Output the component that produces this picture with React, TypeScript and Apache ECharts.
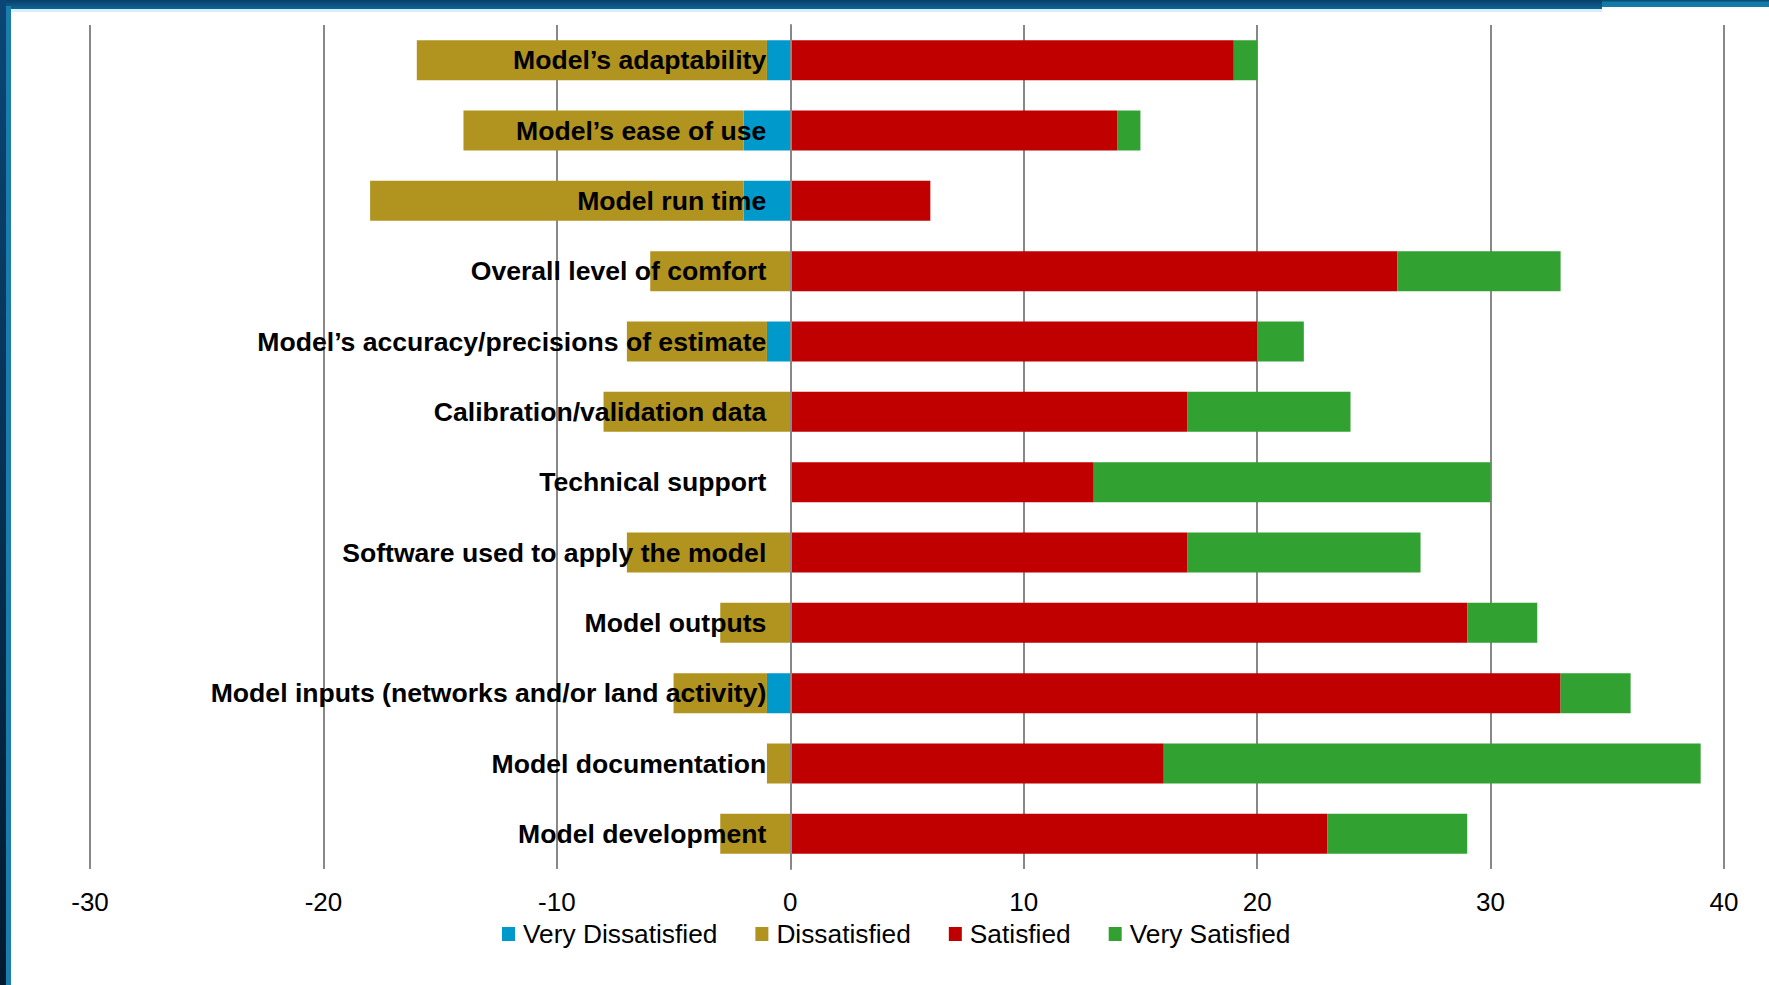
import React, { useEffect, useRef } from "react";
import * as echarts from "echarts";

const categories = [
  "Model’s adaptability",
  "Model’s ease of use",
  "Model run time",
  "Overall level of comfort",
  "Model’s accuracy/precisions of estimate",
  "Calibration/validation data",
  "Technical support",
  "Software used to apply the model",
  "Model outputs",
  "Model inputs (networks and/or land activity)",
  "Model documentation",
  "Model development",
];

const veryDissatisfied = [-1, -2, -2, 0, -1, 0, 0, 0, 0, -1, 0, 0];
const dissatisfied = [-15, -12, -16, -6, -6, -8, 0, -7, -3, -4, -1, -3];
const satisfied = [19, 14, 6, 26, 20, 17, 13, 17, 29, 33, 16, 23];
const verySatisfied = [1, 1, 0, 7, 2, 7, 17, 10, 3, 3, 23, 6];

const xMin = -30;
const xMax = 40;
const xInterval = 10;

const seriesNames = ["Very Dissatisfied", "Dissatisfied", "Satisfied", "Very Satisfied"];
const seriesColors = ["#0099CC", "#B19320", "#C00000", "#31A232"];

const GRID_LEFT = 90;
const GRID_RIGHT = 45;
const WIDTH = 1769;

export default function App() {
  const ref = useRef<HTMLDivElement>(null);

  useEffect(() => {
    if (!ref.current) return;
    const chart = echarts.init(ref.current, null, { renderer: "svg" });
    const font = "'Liberation Sans', Arial, sans-serif";
    const values = [veryDissatisfied, dissatisfied, satisfied, verySatisfied];
    const gridWidth = WIDTH - GRID_LEFT - GRID_RIGHT;
    const zeroOffset = ((0 - xMin) / (xMax - xMin)) * gridWidth;
    chart.setOption({
      animation: false,
      backgroundColor: "#ffffff",
      textStyle: { fontFamily: font },
      grid: {
        left: GRID_LEFT,
        right: GRID_RIGHT,
        top: 25,
        bottom: 116,
        containLabel: false,
        outerBoundsMode: "none",
      },
      legend: {
        data: seriesNames,
        left: 502,
        top: 921,
        padding: 0,
        itemWidth: 13,
        itemHeight: 14,
        itemGap: 38,
        icon: "rect",
        textStyle: {
          fontFamily: font,
          fontSize: 26.3,
          color: "#000",
          lineHeight: 26,
          padding: [0, 0, 0, 3],
        },
      },
      xAxis: {
        type: "value",
        min: xMin,
        max: xMax,
        interval: xInterval,
        axisLine: { show: false },
        axisTick: { show: false },
        axisLabel: {
          fontFamily: font,
          fontSize: 26,
          color: "#000",
          margin: 20,
        },
        splitLine: { show: true, lineStyle: { color: "#888888", width: 2 } },
      },
      yAxis: {
        type: "category",
        data: categories,
        inverse: true,
        z: 5,
        offset: -zeroOffset,
        axisLine: { show: true, onZero: false, lineStyle: { color: "#888888", width: 2 } },
        axisTick: { show: false },
        axisLabel: {
          fontFamily: font,
          fontSize: 26.6,
          fontWeight: "bold",
          color: "#000",
          margin: 24,
        },
        splitLine: { show: false },
      },
      series: seriesNames.map((name, i) => ({
        name,
        type: "bar",
        stack: "total",
        barWidth: 40,
        data: values[i],
        itemStyle: { color: seriesColors[i] },
      })),
      graphic: [
        {
          type: "rect",
          left: 0,
          top: 0,
          shape: { width: 1602, height: 9 },
          style: {
            fill: new echarts.graphic.LinearGradient(0, 0, 0, 1, [
              { offset: 0, color: "#0a3f6a" },
              { offset: 1, color: "#0d6595" },
            ]),
          },
          z: 10,
        },
        {
          type: "rect",
          left: 0,
          top: 9,
          shape: { width: 1602, height: 3 },
          style: { fill: "#d6eef6" },
          z: 10,
        },
        {
          type: "rect",
          left: 1602,
          top: 0,
          shape: { width: 167, height: 7 },
          style: {
            fill: new echarts.graphic.LinearGradient(0, 0, 0, 1, [
              { offset: 0, color: "#0a3f6a" },
              { offset: 0.35, color: "#117aa6" },
              { offset: 1, color: "#137ea9" },
            ]),
          },
          z: 10,
        },
        {
          type: "rect",
          left: 0,
          top: 0,
          shape: { width: 6, height: 985 },
          style: {
            fill: new echarts.graphic.LinearGradient(0, 0, 0, 1, [
              { offset: 0, color: "#0b4676" },
              { offset: 1, color: "#021a2e" },
            ]),
          },
          z: 11,
        },
        {
          type: "rect",
          left: 6,
          top: 6,
          shape: { width: 5, height: 979 },
          style: { fill: "#1a7dac" },
          z: 11,
        },
      ],
    });
    return () => chart.dispose();
  }, []);

  return (
    <div
      ref={ref}
      style={{ position: "fixed", left: 0, top: 0, width: WIDTH, height: 985 }}
    />
  );
}
